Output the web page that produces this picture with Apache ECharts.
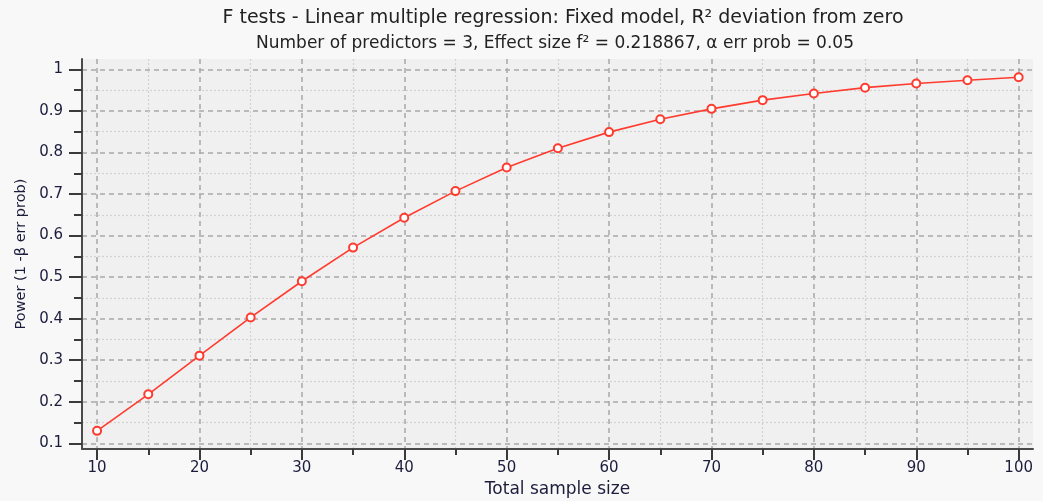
<!DOCTYPE html>
<html>
<head>
<meta charset="utf-8">
<script src="https://cdn.jsdelivr.net/npm/echarts@6/dist/echarts.min.js"></script>
<style>
html,body{margin:0;padding:0;background:#fff;}
#chart{width:1043px;height:501px;}
</style>
</head>
<body>
<div id="chart"></div>
<script>
// ---- data ----
const sampleSizes = [10,15,20,25,30,35,40,45,50,55,60,65,70,75,80,85,90,95,100];
const powerValues = [0.130,0.218,0.311,0.403,0.490,0.571,0.643,0.707,0.764,0.810,0.849,0.880,0.905,0.926,0.942,0.956,0.966,0.974,0.981];
const xMajorTicks = [10,20,30,40,50,60,70,80,90,100];
const xMinorTicks = [15,25,35,45,55,65,75,85,95];
const yMajorTicks = [0.1,0.2,0.3,0.4,0.5,0.6,0.7,0.8,0.9,1];
const yMinorTicks = [0.15,0.25,0.35,0.45,0.55,0.65,0.75,0.85,0.95];
const titleText = 'F tests - Linear multiple regression: Fixed model, R² deviation from zero';
const subtitleText = 'Number of predictors = 3, Effect size f² = 0.218867, α err prob = 0.05';
const xName = 'Total sample size';
const yName = 'Power (1 -β err prob)';

const FONT = 'DejaVu Sans';
const X_MIN = 8.53, X_MAX = 101.4, Y_MIN = 0.0863, Y_MAX = 1.025;

const chart = echarts.init(document.getElementById('chart'));

function xAxisDef(major) {
  return {
    type: 'value', min: X_MIN, max: X_MAX, gridIndex: 0, position: 'bottom',
    axisLine: { show: major, onZero: false, lineStyle: { color: '#4a4a4a', width: 2 } },
    axisTick: { show: true, length: major ? 11 : 6, customValues: major ? xMajorTicks : xMinorTicks,
      lineStyle: { color: '#3a3a3a', width: 2 } },
    axisLabel: { show: major, customValues: xMajorTicks, color: '#1c1c3c', fontFamily: FONT, fontSize: 15, margin: 12 },
    splitLine: { show: true, lineStyle: major ? { color: '#a8a8a8', width: 1.5, type: [5, 4] } : { color: '#d2d2d2', width: 1.2, type: [2, 2] } },
    name: major ? xName : '', nameLocation: 'middle', nameGap: 30,
    nameTextStyle: { color: '#1c1c3c', fontFamily: FONT, fontSize: 17 }
  };
}
function yAxisDef(major) {
  return {
    type: 'value', min: Y_MIN, max: Y_MAX, gridIndex: 0, position: 'left',
    axisLine: { show: major, onZero: false, lineStyle: { color: '#4a4a4a', width: 2 } },
    axisTick: { show: true, length: major ? 13 : 8, customValues: major ? yMajorTicks : yMinorTicks,
      lineStyle: { color: '#3a3a3a', width: 2 } },
    axisLabel: { show: major, customValues: yMajorTicks, color: '#1c1c3c', fontFamily: FONT, fontSize: 15, margin: 19 },
    splitLine: { show: true, lineStyle: major ? { color: '#a8a8a8', width: 1.5, type: [5, 4] } : { color: '#d2d2d2', width: 1.2, type: [2, 2] } },
    name: major ? yName : '', nameLocation: 'middle', nameGap: 52,
    nameTextStyle: { color: '#1c1c3c', fontFamily: FONT, fontSize: 14.5 }
  };
}

chart.setOption({
  backgroundColor: '#f8f8f8',
  animation: false,
  title: [
    { text: titleText, left: 558, top: 4, textAlign: 'center',
      textStyle: { fontFamily: FONT, fontSize: 19, fontWeight: 'normal', color: '#222' } },
    { text: subtitleText, left: 550, top: 30, textAlign: 'center',
      textStyle: { fontFamily: FONT, fontSize: 17, fontWeight: 'normal', color: '#222' } }
  ],
  grid: { left: 82, right: 10, top: 59, bottom: 52, show: true, backgroundColor: '#f0f0f0', borderWidth: 0,
    containLabel: false, outerBoundsMode: 'none' },
  xAxis: [ xAxisDef(false), xAxisDef(true) ],
  yAxis: [ yAxisDef(false), yAxisDef(true) ],
  series: [{
    type: 'line', xAxisIndex: 1, yAxisIndex: 1,
    data: sampleSizes.map((x, i) => [x, powerValues[i]]),
    symbol: 'circle', symbolSize: 8,
    itemStyle: { color: '#ffffff', borderColor: '#ff3b2f', borderWidth: 2 },
    lineStyle: { color: '#ff3b2f', width: 1.6 },
    z: 5
  }]
});
</script>
</body>
</html>
